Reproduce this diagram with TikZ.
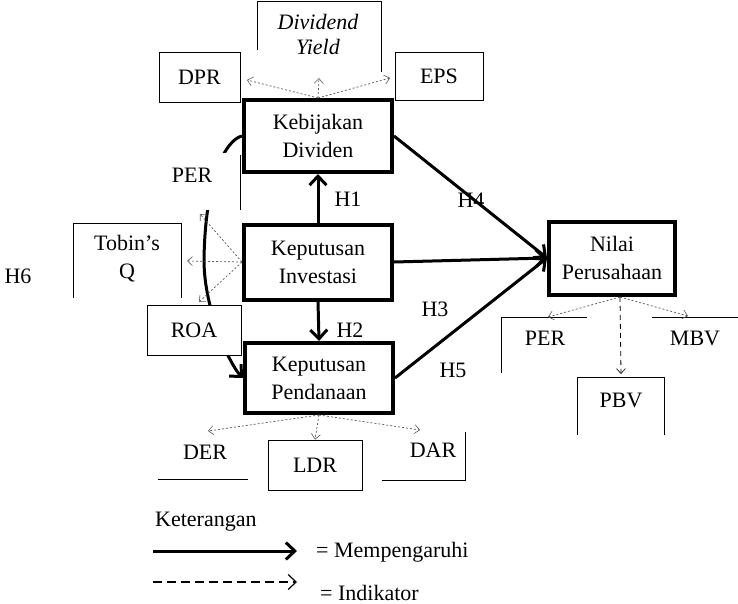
\documentclass[tikz,border=0pt]{standalone}
\usepackage{fontspec}
\setmainfont{Liberation Serif}
\usetikzlibrary{arrows.meta}
\begin{document}
\begin{tikzpicture}[x=1pt,y=-1pt,
  every node/.style={font=\fontsize{22}{28}\selectfont, inner sep=0pt},
  mainbox/.style={draw, line width=4pt, align=center, minimum width=148pt},
  indbox/.style={draw, line width=0.8pt, fill=white},
  eff/.style={line width=3pt, -{Straight Barb[length=9pt,width=17pt,line width=3pt]}},
  ind/.style={line width=0.7pt, black!65, dash pattern=on 2pt off 2pt, -{Straight Barb[length=5pt,width=9pt,line width=0.6pt]}},
  indd/.style={line width=0.8pt, black, dash pattern=on 5pt off 4pt, -{Straight Barb[length=5pt,width=9pt,line width=0.6pt]}},
  thinl/.style={line width=0.8pt}]
\useasboundingbox (0,0) rectangle (738,604);
\fill[white] (0,0) rectangle (738,604);

% main constructs
\node[mainbox, minimum height=72pt] (keb) at (318,136) {Kebijakan\\Dividen};
\node[mainbox, minimum height=75pt] (inv) at (318,262) {Keputusan\\Investasi};
\node[mainbox, minimum height=70pt] (pend) at (319,378) {Keputusan\\Pendanaan};
\node[mainbox, minimum width=126pt, minimum height=73pt] (nilai) at (612,258) {Nilai\\Perusahaan};

% H6 curve (drawn first, partly hidden by boxes)
\draw[eff] (keb.west) .. controls (225,140) and (205,180) .. (204,260)
                      .. controls (204,310) and (230,365) .. (pend.west);

% left side boxes
\fill[white] (158,153) rectangle (240,210);
\draw[thinl] (240,155) -- (240,210);
\node (perl) at (192,175) {PER};
\draw[thinl] (73,298) -- (73,223) -- (181,223) -- (181,298);
\node[align=center] (tobin) at (127,259) {Tobin's\\Q};
\node[indbox, minimum width=94pt, minimum height=50pt] (roa) at (194,330) {ROA};
\node (h6) at (18,276) {H6};

% top indicator boxes
\node[draw, line width=0.8pt, minimum width=81pt, minimum height=50pt] (dpr) at (199.5,77) {DPR};
\node[draw, line width=0.8pt, minimum width=88pt, minimum height=48pt] (eps) at (439,76) {EPS};
\draw[thinl] (257,50) -- (257,1) -- (381,1) -- (381,72);
\node[align=center, font=\fontsize{22}{25}\selectfont\itshape] (dy) at (318,34) {Dividend\\Yield};

% bottom indicator boxes
\draw[thinl] (158,479) -- (248,479);
\node (der) at (205,452) {DER};
\node[draw, line width=0.8pt, minimum width=94pt, minimum height=50pt] (ldr) at (315,465) {LDR};
\draw[thinl] (382,480) -- (465,480) -- (465,432);
\node (dar) at (433,450) {DAR};

% right indicator boxes
\draw[thinl] (501,373) -- (501,317) -- (587,317);
\node (perr) at (545,338) {PER};
\draw[thinl] (652,317) -- (738,317);
\node (mbv) at (695,338) {MBV};
\draw[thinl] (577,435) -- (577,377) -- (664,377) -- (664,435);
\node (pbv) at (621,400) {PBV};

% main arrows
\draw[eff] (inv.north) -- (keb.south);
\draw[eff] (inv.south) -- (pend.north);
\draw[eff] (keb.east) -- (nilai.west);
\draw[eff] (inv.east) -- (nilai.west);
\draw[eff] (pend.east) -- (nilai.west);

% hypothesis labels
\node (h1) at (348,199) {H1};
\node (h4) at (471,200) {H4};
\node (h3) at (435,309) {H3};
\node (h2) at (350,330) {H2};
\node (h5) at (453,370) {H5};

% indicator arrows
\coordinate (dyb) at (319,78);
\coordinate (dprt) at (247,80);
\coordinate (epst) at (390,78);
\draw[ind] (keb.north) -- (dprt);
\draw[ind] (keb.north) -- (dyb);
\draw[ind] (keb.north) -- (epst);

\coordinate (tobt) at (187,261);
\coordinate (perlt) at (200,214);
\coordinate (roat) at (199,302);
\draw[ind] (inv.west) -- (tobt);
\draw[ind] (inv.west) -- (perlt);
\draw[ind] (inv.west) -- (roat);

\coordinate (dert) at (208,431);
\coordinate (dart) at (420,430);
\draw[ind] (pend.south) -- (dert);
\draw[ind] (pend.south) -- (ldr.north);
\draw[ind] (pend.south) -- (dart);

\coordinate (nb) at (620,297);
\coordinate (perrt) at (548,317);
\coordinate (mbvt) at (688,316);
\coordinate (pbvt) at (621,374);
\draw[ind] (nb) -- (perrt);
\draw[ind] (nb) -- (mbvt);
\draw[indd] (nb) -- (pbvt);

% legend
\node[anchor=west] (ket) at (155,522) {Keterangan};
\coordinate (la1) at (153,551);
\coordinate (lb1) at (297,551);
\draw[eff] (la1) -- (lb1);
\node[anchor=west] (mp) at (316,552) {= Mempengaruhi};
\coordinate (la2) at (153,582);
\coordinate (lb2) at (297,582);
\draw[line width=1.5pt, dash pattern=on 9pt off 5pt, -{Straight Barb[length=8pt,width=15pt,line width=1.2pt]}] (la2) -- (lb2);
\node[anchor=west] (ik) at (320,593) {= Indikator};
\end{tikzpicture}
\end{document}
